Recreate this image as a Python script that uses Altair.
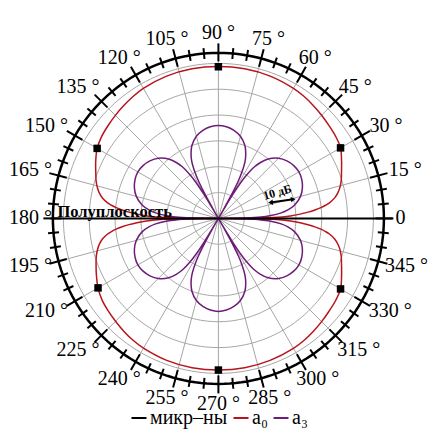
import math
import altair as alt
import pandas as pd

# ---------------- data ----------------
# radial quantity: level in dB, centre of the plot = -60 dB, grid every 10 dB
a0_angles = [0, 1, 2, 3, 4, 5, 6, 7, 8, 10, 12, 14, 17, 20, 25, 30, 35, 40, 45, 50, 55, 60, 70, 80, 90,
             100, 110, 120, 125, 130, 135, 140, 145, 150, 155, 160, 163, 166, 168, 170, 172, 173, 174,
             175, 176, 177, 178, 179, 180,
             181, 182, 183, 184, 185, 186, 187, 188, 190, 192, 194, 197, 200, 205, 210, 215, 220, 225,
             230, 235, 240, 250, 260, 270, 280, 290, 300, 305, 310, 315, 320, 325, 330, 335, 340, 343,
             346, 348, 350, 352, 353, 354, 355, 356, 357, 358, 359, 360]
a0_db = [-60, -38.7, -32.1, -28.3, -25.2, -22.5, -20.1, -18.2, -16.6, -14.3, -12.8, -11.6, -10.3, -9.3,
         -7.4, -5.4, -4.6, -4.1, -3.5, -2.9, -2.3, -1.9, -1.4, -1.2, -1.2,
         -1.2, -1.4, -1.9, -2.4, -3.0, -3.6, -4.2, -4.8, -5.8, -7.6, -9.5, -10.5, -11.8, -12.9, -14.4,
         -16.7, -18.3, -20.2, -22.6, -25.3, -28.4, -32.2, -38.8, -60,
         -38.8, -32.2, -28.4, -25.3, -22.6, -20.2, -18.3, -16.7, -14.5, -13.0, -11.9, -10.6, -9.6,
         -7.9, -6.2, -5.0, -4.3, -3.7, -3.0, -2.4, -2.0, -1.5, -1.3, -1.3, -1.3, -1.5, -1.9, -2.3,
         -2.9, -3.5, -4.1, -4.6, -5.4, -7.4, -9.3, -10.3, -11.6, -12.8, -14.3, -16.6, -18.2, -20.1,
         -22.5, -25.2, -28.3, -32.1, -38.7, -60]

a3_lobe_centres = [30, 90, 150, 210, 270, 330]
a3_lobe_peaks_db = [-24.0, -24.0, -24.0, -24.0, -24.0, -24.0]
a3_offsets = [-30, -29.5, -29, -28, -27, -25, -23, -20, -15, -10, -5, 0,
              5, 10, 15, 20, 23, 25, 27, 28, 29, 29.5]
a3_drop_db = [-36, -31.4, -25.5, -19.5, -16.1, -11.6, -8.9, -6.0, -3.1, -1.4, -0.4, 0,
              -0.4, -1.4, -3.1, -6.0, -8.9, -11.6, -16.1, -19.5, -25.5, -31.4]

mic_angles = [30, 90, 150, 210, 270, 330]
mic_db = [-5.4, -1.3, -5.8, -6.2, -1.3, -5.4]

grid_levels_db = [-50, -40, -30, -20, -10, 0]
outer_level_db = 4.07
spoke_angles = list(range(0, 360, 15))
tick_angles = list(range(0, 360, 5))
label_angles = list(range(0, 360, 15))
label_texts = ["0"] + [f"{a} °" for a in range(15, 360, 15)]

legend_names = ["микр–ны", "a₀", "a₃"]
RED = "#b8141c"
PURPLE = "#6e1c78"

# ---------------- layout constants ----------------
W = 421
C = 210.4                 # pixel position of the pole from the chart's top-left
K = 155 / 60.0            # pixels per dB
SERIF = "Liberation Serif"

a0_df = pd.DataFrame({"ang": a0_angles, "db": a0_db, "series": "a₀"})
a0_df["i"] = range(len(a0_df))

rows = []
for c, p in zip(a3_lobe_centres, a3_lobe_peaks_db):
    for o, d in zip(a3_offsets, a3_drop_db):
        rows.append({"ang": c + o, "db": p + d})
rows.append({"ang": 360, "db": -60})
a3_df = pd.DataFrame(rows)
a3_df["series"] = "a₃"
a3_df["i"] = range(len(a3_df))
curves = pd.concat([a0_df, a3_df], ignore_index=True)

xs = alt.Scale(domain=[-C / K, (W - C) / K], nice=False, zero=False)
ys = alt.Scale(domain=[-(W - C) / K, C / K], nice=False, zero=False)

polar = dict(
    px="(datum.db + 60) * cos(datum.ang * PI / 180)",
    py="(datum.db + 60) * sin(datum.ang * PI / 180)",
)


def XY(fx, fy):
    return dict(x=alt.X(f"{fx}:Q", scale=xs, axis=None), y=alt.Y(f"{fy}:Q", scale=ys, axis=None))


def ring(levels, color, width):
    return alt.Chart(pd.DataFrame({"db": levels})).transform_calculate(
        angs="sequence(0, 362, 2)").transform_flatten(["angs"]).transform_calculate(
        cx="(datum.db + 60) * cos(datum.angs * PI / 180)",
        cy="(datum.db + 60) * sin(datum.angs * PI / 180)",
    ).mark_line(color=color, strokeWidth=width).encode(
        **XY("cx", "cy"), detail="db:N", order="angs:Q")


grid = ring(grid_levels_db, "#a6a6a6", 1)
outer = ring([outer_level_db], "black", 2.5)

spokes = alt.Chart(pd.DataFrame({"ang": spoke_angles})).transform_calculate(
    x0="0", y0="0",
    x1=f"{outer_level_db + 60} * cos(datum.ang * PI / 180)",
    y1=f"{outer_level_db + 60} * sin(datum.ang * PI / 180)",
).mark_rule(color="#a6a6a6", strokeWidth=1).encode(**XY("x0", "y0"), x2="x1:Q", y2="y1:Q")

ticks = alt.Chart(pd.DataFrame({"ang": tick_angles})).transform_calculate(
    major="datum.ang % 15 == 0",
    r1=f"datum.major ? {157 / K} : {160 / K}",
    r2=f"datum.major ? {175 / K} : {171 / K}",
    x0="datum.r1 * cos(datum.ang * PI / 180)", y0="datum.r1 * sin(datum.ang * PI / 180)",
    x1="datum.r2 * cos(datum.ang * PI / 180)", y1="datum.r2 * sin(datum.ang * PI / 180)",
).mark_rule(color="black", strokeWidth=2).encode(**XY("x0", "y0"), x2="x1:Q", y2="y1:Q")

labels = alt.Chart(pd.DataFrame({"ang": label_angles, "label": label_texts})).transform_calculate(
    w="datum.label == '0' ? 10 : (length(datum.label) - 2) * 10 + 13",
    cx0="cos(datum.ang * PI / 180) * (177 + datum.w / 2)",
    cx1=f"max(datum.cx0, -{C} + datum.w / 2 + 1)",
    cx=f"min(datum.cx1, {W - C} - datum.w / 2 - 1) / {K}",
    cy=f"sin(datum.ang * PI / 180) * (179 + 6.5) / {K}",
).mark_text(font=SERIF, fontSize=20, align="center", baseline="middle", color="black").encode(
    **XY("cx", "cy"), text="label:N")

# half-plane boundary
half_plane = alt.Chart(pd.DataFrame({"ang": [180], "db": [5.0], "ang2": [0], "db2": [7.4]})).transform_calculate(
    x0="(datum.db + 60) * cos(datum.ang * PI / 180)",
    y0="(datum.db + 60) * sin(datum.ang * PI / 180)",
    x1="(datum.db2 + 60) * cos(datum.ang2 * PI / 180)",
    y1="(datum.db2 + 60) * sin(datum.ang2 * PI / 180)",
).mark_rule(color="black", strokeWidth=2).encode(**XY("x0", "y0"), x2="x1:Q", y2="y1:Q")

lines = alt.Chart(curves).transform_calculate(**polar).mark_line(
    strokeWidth=1.5, interpolate="catmull-rom").encode(
    **XY("px", "py"),
    order="i:Q",
    color=alt.Color("series:N", scale=alt.Scale(domain=legend_names, range=["black", RED, PURPLE]),
                    legend=alt.Legend(orient="none", legendX=121, legendY=400, direction="horizontal",
                                      symbolType="stroke", symbolSize=225, symbolStrokeWidth=2,
                                      labelFont=SERIF, labelFontSize=20, labelOffset=1,
                                      columnPadding=1, title=None, padding=0, labelLimit=0)))

mics = alt.Chart(pd.DataFrame({"ang": mic_angles, "db": mic_db})).transform_calculate(**polar).mark_square(
    color="black", size=56, opacity=1).encode(**XY("px", "py"))

ann = pd.DataFrame({"ang": [180], "db": [2.3], "text": ["Полуплоскость"]})
half_label = alt.Chart(ann).transform_calculate(**polar).mark_text(
    font=SERIF, fontSize=16.5, fontWeight="bold", align="left", baseline="alphabetic", dy=-1,
    color="black").encode(**XY("px", "py"), text="text:N")

db_label = alt.Chart(pd.DataFrame({"ang": [24], "db": [-35], "text": ["10 дБ"]})).transform_calculate(
    **polar).mark_text(font=SERIF, fontSize=12, fontWeight="bold", align="center", baseline="middle",
                       angle=344, color="black").encode(**XY("px", "py"), text="text:N")

arrow_df = pd.DataFrame({"ang": [17.0], "db": [-38.9], "ang2": [14.3], "db2": [-30.1]})
arrow = alt.Chart(arrow_df).transform_calculate(
    x0="(datum.db + 60) * cos(datum.ang * PI / 180)",
    y0="(datum.db + 60) * sin(datum.ang * PI / 180)",
    x1="(datum.db2 + 60) * cos(datum.ang2 * PI / 180)",
    y1="(datum.db2 + 60) * sin(datum.ang2 * PI / 180)",
).mark_rule(color="black", strokeWidth=2).encode(**XY("x0", "y0"), x2="x1:Q", y2="y1:Q")
heads_df = pd.DataFrame({"ang": [17.0, 14.3], "db": [-38.9, -30.1], "shape": ["triangle-left", "triangle-right"]})
heads = alt.Chart(heads_df).transform_calculate(**polar).mark_point(
    filled=True, color="black", size=30, angle=353, opacity=1).encode(
    **XY("px", "py"), shape=alt.Shape("shape:N", scale=None))

chart = alt.layer(grid, spokes, outer, ticks, labels, lines, half_plane, mics, half_label,
                  db_label, arrow, heads).properties(
    width=W, height=W, padding=0, autosize="none").configure_view(stroke=None)

chart.save("out.html", embed_options={"renderer": "svg", "actions": False})
